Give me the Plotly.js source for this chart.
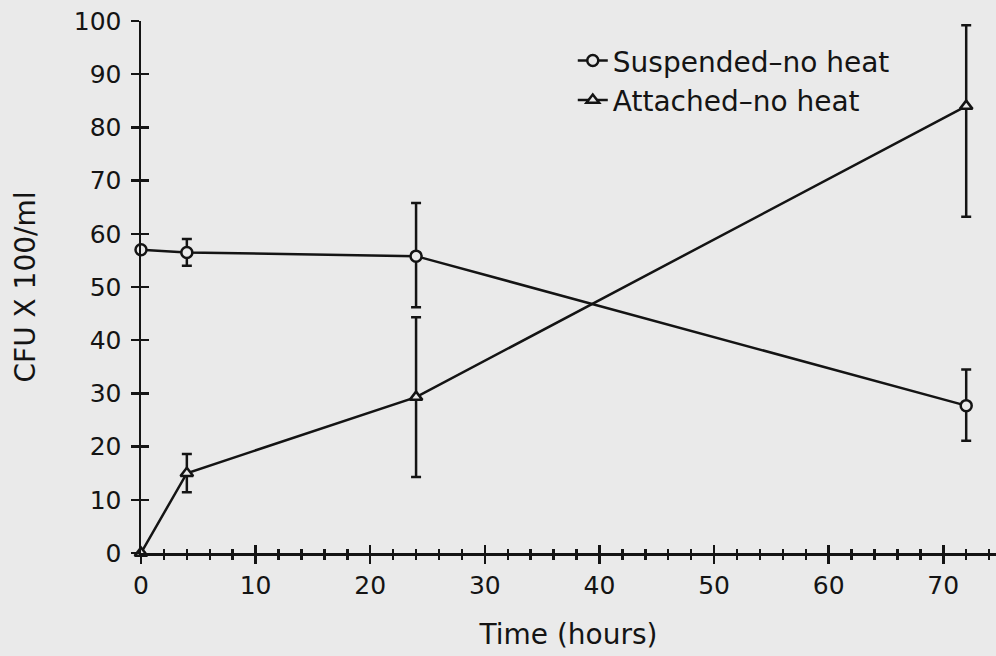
<!DOCTYPE html>
<html>
<head>
<meta charset="utf-8">
<script src="https://cdn.plot.ly/plotly-3.0.1.min.js"></script>
<style>
html,body{margin:0;padding:0;background:#eaeaea;}
#chart{width:996px;height:656px;}
</style>
</head>
<body>
<div id="chart"></div>
<script>
// ---- data ----
const timeHours = [0, 4, 24, 72];

const seriesNames = ["Suspended\u2013no heat", "Attached\u2013no heat"];

const suspended = [57, 56.5, 55.8, 27.7];
const suspendedErrPlus = [0, 2.5, 10, 6.8];
const suspendedErrMinus = [0, 2.5, 9.6, 6.6];

const attached = [0, 15, 29.3, 84];
const attachedErrPlus = [0, 3.6, 15, 15.2];
const attachedErrMinus = [0, 3.6, 15, 20.8];

const xTitle = "Time (hours)";
const yTitle = "CFU X 100/ml";

// ---- styling ----
const BG = "#eaeaea";
const INK = "#141414";
const FONT = "DejaVu Sans, sans-serif";

function errObj(plus, minus) {
  return {type: "data", symmetric: false, array: plus, arrayminus: minus,
          color: INK, thickness: 2.5, width: 5};
}

const traces = [
  {
    x: timeHours, y: suspended, name: seriesNames[0], type: "scatter", mode: "lines+markers",
    line: {color: INK, width: 2.5},
    marker: {symbol: "circle", size: 11, color: BG, line: {color: INK, width: 2.5}},
    error_y: errObj(suspendedErrPlus, suspendedErrMinus),
    cliponaxis: false
  },
  {
    x: timeHours, y: attached, name: seriesNames[1], type: "scatter", mode: "lines+markers",
    line: {color: INK, width: 2.5},
    marker: {symbol: "triangle-up", size: 11, color: BG, line: {color: INK, width: 2.5}},
    error_y: errObj(attachedErrPlus, attachedErrMinus),
    cliponaxis: false
  },
  // invisible copy on the overlay axes so their inward tick marks are drawn
  {
    x: timeHours, y: attached, xaxis: "x2", yaxis: "y2", type: "scatter", mode: "markers",
    marker: {opacity: 0}, showlegend: false, hoverinfo: "skip"
  }
];

const baseX = {
  range: [0, 74.6], dtick: 10, tick0: 0, showgrid: false, zeroline: false,
  showline: true, linecolor: INK, linewidth: 2.5,
  tickcolor: INK, tickwidth: 2.5, ticklen: 8,
  minor: {dtick: 2, tick0: 0, ticklen: 4, tickwidth: 2.5, tickcolor: INK, showgrid: false}
};
const baseY = {
  range: [0, 100], dtick: 10, tick0: 0, showgrid: false, zeroline: false,
  showline: true, linecolor: INK, linewidth: 2.5,
  tickcolor: INK, tickwidth: 2.5, ticklen: 8
};

const layout = {
  width: 996, height: 656,
  paper_bgcolor: BG, plot_bgcolor: BG,
  margin: {l: 141, r: 0, t: 21, b: 103},
  font: {family: FONT, color: INK, size: 25},
  showlegend: true,
  legend: {
    x: 0.505, y: 0.972, xanchor: "left", yanchor: "top",
    bgcolor: "rgba(0,0,0,0)", font: {family: FONT, size: 28, color: INK},
    tracegroupgap: 0
  },
  xaxis: Object.assign({}, baseX, {
    ticks: "outside",
    minor: Object.assign({}, baseX.minor, {ticks: "outside"}),
    tickfont: {family: FONT, size: 25, color: INK},
    title: {text: xTitle, font: {family: FONT, size: 28, color: INK}, standoff: 26}
  }),
  xaxis2: Object.assign({}, baseX, {
    overlaying: "x", anchor: "y2", side: "bottom",
    ticks: "inside", showticklabels: false,
    minor: Object.assign({}, baseX.minor, {ticks: "inside"})
  }),
  yaxis: Object.assign({}, baseY, {
    ticks: "outside",
    tickfont: {family: FONT, size: 25, color: INK},
    ticklabelstandoff: 4,
    title: {text: yTitle, font: {family: FONT, size: 28, color: INK}, standoff: 30}
  }),
  yaxis2: Object.assign({}, baseY, {
    overlaying: "y", anchor: "x2", side: "left",
    ticks: "inside", showticklabels: false
  })
};

Plotly.newPlot("chart", traces, layout, {displayModeBar: false, staticPlot: true});
</script>
</body>
</html>
